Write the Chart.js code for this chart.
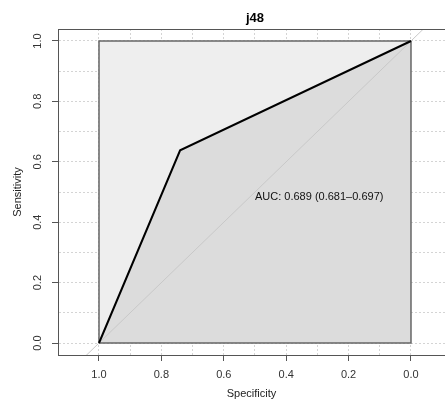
<!DOCTYPE html>
<html>
<head>
<meta charset="utf-8">
<script src="https://cdn.jsdelivr.net/npm/chart.js@4.4.0/dist/chart.umd.min.js"></script>
<style>
    body { margin: 0; background: #ffffff; }
</style>
</head>
<body>
<canvas id="rocJ48" width="445" height="404"></canvas>
<script>
//Données ROC - j48
var chartTitle = 'j48';
var aucLabel = 'AUC: 0.689 (0.681\u20130.697)';
var specificity = [1.0, 0.74, 0.0];
var sensitivity = [0.0, 0.638, 1.0];
var maxAucSpec = [1.0, 1.0, 0.0, 0.0, 1.0];
var maxAucSens = [0.0, 1.0, 1.0, 0.0, 0.0];
var identitySpec = [1.2, -0.2];
var identitySens = [-0.2, 1.2];
var gridValues = [0.0, 0.1, 0.2, 0.3, 0.4, 0.5, 0.6, 0.7, 0.8, 0.9, 1.0];
var tickLabels = ['0.0', '', '0.2', '', '0.4', '', '0.6', '', '0.8', '', '1.0'];

function toPoints(xs, ys) {
    return xs.map(function (x, i) { return { x: x, y: ys[i] }; });
}

function labelFor(value) {
    var i = Math.round(value * 10);
    return tickLabels[i] || '';
}

function isMajor(value) {
    return labelFor(value) !== '';
}

//Titre, bord haut et texte AUC
var rocDecor = {
    id: 'rocDecor',
    afterDraw: function (chart) {
        var ctx = chart.ctx;
        var area = chart.chartArea;
        var xs = chart.scales.x;
        var ys = chart.scales.y;
        ctx.save();
        ctx.strokeStyle = '#555555';
        ctx.lineWidth = 1;
        ctx.beginPath();
        ctx.moveTo(area.left, area.top + 0.5);
        ctx.lineTo(chart.width, area.top + 0.5);
        ctx.stroke();

        ctx.fillStyle = '#000000';
        ctx.font = 'bold 13px "Liberation Sans", Arial, sans-serif';
        ctx.textAlign = 'center';
        ctx.textBaseline = 'alphabetic';
        ctx.fillText(chartTitle, xs.getPixelForValue(0.5), 22);

        ctx.font = '11px "Liberation Sans", Arial, sans-serif';
        ctx.textAlign = 'left';
        ctx.textBaseline = 'middle';
        ctx.fillStyle = '#111111';
        ctx.fillText(aucLabel, xs.getPixelForValue(0.5), ys.getPixelForValue(0.483));
        ctx.restore();
    }
};

var tickFont = { family: '"Liberation Sans", Arial, sans-serif', size: 11 };

var ctx = document.getElementById('rocJ48').getContext('2d');
var chart = new Chart(ctx, {
    type: 'line',
    data: {
        datasets: [{
            label: 'curve',
            data: toPoints(specificity, sensitivity),
            borderColor: '#000000',
            borderWidth: 2,
            backgroundColor: '#DCDCDC',
            fill: 'origin',
            pointRadius: 0,
            order: 0
        }, {
            label: 'identity',
            data: toPoints(identitySpec, identitySens),
            borderColor: '#C8C8C8',
            borderWidth: 1,
            fill: false,
            pointRadius: 0,
            order: 1
        }, {
            label: 'max auc border',
            data: toPoints(maxAucSpec, maxAucSens),
            borderColor: '#666666',
            borderWidth: 1.5,
            fill: false,
            pointRadius: 0,
            order: 2
        }, {
            label: 'max auc',
            data: toPoints([1.0, 0.0], [1.0, 1.0]),
            borderWidth: 0,
            borderColor: 'rgba(0,0,0,0)',
            backgroundColor: '#EEEEEE',
            fill: 'origin',
            pointRadius: 0,
            order: 3
        }]
    },
    options: {
        responsive: false,
        animation: false,
        layout: {
            padding: { top: 29, right: 0, left: 0, bottom: 0 }
        },
        plugins: {
            legend: { display: false },
            tooltip: { enabled: false },
            filler: { drawTime: 'beforeDatasetsDraw' }
        },
        scales: {
            x: {
                type: 'linear',
                reverse: true,
                min: -0.109,
                max: 1.1314,
                afterBuildTicks: function (scale) {
                    scale.ticks = gridValues.map(function (v) { return { value: v }; });
                },
                afterFit: function (scale) { scale.height = 49; },
                grid: {
                    color: '#D4D4D4',
                    lineWidth: 1,
                    tickLength: 6,
                    tickColor: function (c) { return c.tick && isMajor(c.tick.value) ? '#555555' : 'rgba(0,0,0,0)'; }
                },
                border: { display: true, color: '#555555', width: 1, dash: [2, 2] },
                ticks: {
                    autoSkip: false,
                    minRotation: 0,
                    maxRotation: 0,
                    padding: 7,
                    color: '#333333',
                    font: tickFont,
                    callback: function (value) { return labelFor(value); }
                },
                title: {
                    display: true,
                    text: 'Specificity',
                    color: '#222222',
                    font: tickFont,
                    padding: { top: 0, bottom: 3 }
                }
            },
            y: {
                type: 'linear',
                min: -0.0397,
                max: 1.0397,
                afterBuildTicks: function (scale) {
                    scale.ticks = gridValues.map(function (v) { return { value: v }; });
                },
                afterFit: function (scale) { scale.width = 58; },
                grid: {
                    color: '#D4D4D4',
                    lineWidth: 1,
                    tickLength: 6,
                    tickColor: function (c) { return c.tick && isMajor(c.tick.value) ? '#555555' : 'rgba(0,0,0,0)'; }
                },
                border: { display: true, color: '#555555', width: 1, dash: [2, 2] },
                ticks: {
                    autoSkip: false,
                    minRotation: 90,
                    maxRotation: 90,
                    crossAlign: 'center',
                    padding: 6,
                    color: '#333333',
                    font: tickFont,
                    callback: function (value) { return labelFor(value); }
                },
                title: {
                    display: true,
                    text: 'Sensitivity',
                    color: '#222222',
                    font: tickFont,
                    padding: { top: 11, bottom: 0 }
                }
            }
        }
    },
    plugins: [rocDecor]
});
</script>
</body>
</html>
